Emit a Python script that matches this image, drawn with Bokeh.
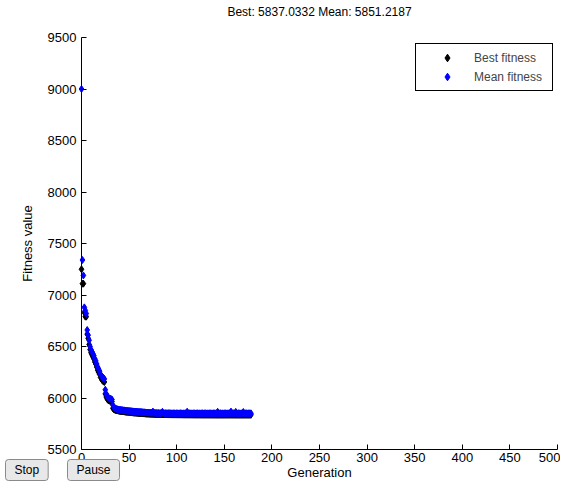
from bokeh.plotting import figure
from bokeh.models import (Label, Range1d, FixedTicker, Legend, LegendItem,
                          ColumnDataSource, LinearAxis)
from bokeh.embed import file_html
from bokeh.resources import INLINE

# ---- data ----
title_text = "Best: 5837.0332 Mean: 5851.2187"
x_ticks = [0, 50, 100, 150, 200, 250, 300, 350, 400, 450, 500]
y_ticks = [5500, 6000, 6500, 7000, 7500, 8000, 8500, 9000, 9500]

best_fitness = [
    7250, 7110, 7110, 6830, 6790, 6790, 6620, 6580, 6520, 6470,
    6440, 6420, 6400, 6380, 6350, 6330, 6300, 6270, 6250, 6230,
    6200, 6185, 6170, 6160, 6155, 6040, 6010, 5990, 5980, 5975,
    5970, 5968, 5965, 5900, 5890, 5886, 5882, 5880, 5878, 5876,
    5874, 5872, 5871, 5870, 5869, 5868, 5866, 5865, 5864, 5863,
    5862, 5861, 5860, 5859, 5858, 5857, 5856, 5856, 5855, 5854,
    5853, 5852, 5852, 5851, 5850, 5849, 5849, 5848, 5847, 5847,
    5846, 5846, 5845, 5845, 5844, 5844, 5843, 5843, 5842, 5842,
    5842, 5841, 5841, 5841, 5840, 5840, 5840, 5840, 5839.8, 5839.7,
    5839.6, 5839.5, 5839.4, 5839.3, 5839.2, 5839.1, 5839.0, 5839.0, 5838.9, 5838.9,
    5838.8, 5838.8, 5838.7, 5838.7, 5838.6, 5838.6, 5838.5, 5838.5, 5838.4, 5838.4,
    5838.3, 5838.3, 5838.2, 5838.2, 5838.1, 5838.1, 5838.0, 5838.0, 5837.9, 5837.9,
    5837.8, 5837.8, 5837.7, 5837.7, 5837.7, 5837.6, 5837.6, 5837.6, 5837.5, 5837.5,
    5837.5, 5837.4, 5837.4, 5837.4, 5837.4, 5837.3, 5837.3, 5837.3, 5837.3, 5837.3,
    5837.2, 5837.2, 5837.2, 5837.2, 5837.2, 5837.2, 5837.2, 5837.2, 5837.2, 5837.2,
    5837.2, 5837.2, 5837.1, 5837.1, 5837.1, 5837.1, 5837.1, 5837.1, 5837.1, 5837.1,
    5837.1, 5837.1, 5837.05, 5837.05, 5837.05, 5837.05, 5837.05, 5837.05, 5837.05, 5837.05,
    5837.04, 5837.04, 5837.04, 5837.04, 5837.04, 5837.04, 5837.04, 5837.04, 5837.0332,
]

mean_fitness = [
    9000, 7340, 7190, 6880, 6850, 6820, 6660, 6610, 6560, 6500,
    6470, 6450, 6430, 6410, 6380, 6360, 6330, 6300, 6280, 6260,
    6230, 6215, 6205, 6195, 6185, 6080, 6040, 6020, 6005, 5998,
    5994, 5990, 5985, 5930, 5910, 5900, 5896, 5893, 5890, 5888,
    5886, 5884, 5883, 5882, 5880, 5880, 5878, 5877, 5876, 5875,
    5874, 5873, 5872, 5871, 5870, 5869, 5868, 5868, 5867, 5866,
    5865, 5864, 5864, 5863, 5862, 5861, 5861, 5860, 5859, 5859,
    5858, 5858, 5857, 5857, 5856, 5868, 5855, 5855, 5854, 5854,
    5853, 5854, 5852, 5853, 5852, 5866, 5852, 5851, 5853, 5852,
    5851, 5852, 5853, 5851, 5852, 5850, 5851, 5852, 5851, 5850,
    5852, 5851, 5850, 5851, 5852, 5851, 5850, 5851, 5850, 5852,
    5851, 5867, 5850, 5851, 5852, 5850, 5851, 5850, 5852, 5851,
    5850, 5851, 5852, 5850, 5851, 5850, 5851, 5852, 5850, 5851,
    5852, 5850, 5851, 5850, 5851, 5852, 5850, 5851, 5850, 5852,
    5851, 5850, 5851, 5866, 5850, 5851, 5852, 5850, 5851, 5850,
    5851, 5852, 5850, 5851, 5850, 5852, 5851, 5868, 5850, 5851,
    5852, 5850, 5865, 5851, 5850, 5852, 5851, 5850, 5851, 5852,
    5864, 5850, 5851, 5852, 5850, 5851, 5852, 5850, 5851.2187,
]

button_labels = ["Stop", "Pause"]

generations = list(range(len(best_fitness)))

FONT = "Liberation Sans"
W, H = 560, 487
# axes box in canvas pixels
BOX_L, BOX_R, BOX_T, BOX_B = 81, 557, 37, 449
X0, X1 = x_ticks[0], x_ticks[-1]
Y0, Y1 = y_ticks[0], y_ticks[-1]
kx = (BOX_R - BOX_L) / (X1 - X0)
ky = (BOX_B - BOX_T) / (Y1 - Y0)

p = figure(width=W, height=H, output_backend="svg", toolbar_location=None,
           title=None, x_axis_type=None, y_axis_type=None,
           x_range=Range1d(X0 - BOX_L / kx, X1 + (W - BOX_R) / kx),
           y_range=Range1d(Y0 - (H - BOX_B) / ky, Y1 + BOX_T / ky),
           min_border=0, background_fill_color="white", border_fill_color="white")
p.outline_line_color = None
p.grid.visible = False

xaxis = LinearAxis(fixed_location=Y0, bounds=(X0, X1), axis_label="Generation")
yaxis = LinearAxis(fixed_location=X0, bounds=(Y0, Y1), axis_label="Fitness value")
p.add_layout(xaxis, "below")
p.add_layout(yaxis, "left")

for ax, ticks in ((xaxis, x_ticks), (yaxis, y_ticks)):
    ax.ticker = FixedTicker(ticks=ticks)
    ax.major_tick_in = 5
    ax.major_tick_out = 0
    ax.minor_tick_line_color = None
    ax.axis_line_color = "black"
    ax.major_tick_line_color = "black"
    ax.major_label_text_font = FONT
    ax.major_label_text_font_size = "13px"
    ax.major_label_text_color = "black"
    ax.axis_label_text_font = FONT
    ax.axis_label_text_font_size = "13px"
    ax.axis_label_text_font_style = "normal"
    ax.axis_label_text_color = "black"

xaxis.major_label_standoff = 3
xaxis.axis_label_standoff = 0
yaxis.major_label_standoff = 5
yaxis.axis_label_standoff = 10

src = ColumnDataSource(dict(gen=generations, best=best_fitness, mean=mean_fitness))
r_best = p.scatter("gen", "best", source=src, marker="diamond", size=7,
                   color="black")
r_mean = p.scatter("gen", "mean", source=src, marker="diamond", size=7,
                   color="#0000ff")

legend = Legend(items=[LegendItem(label="Best fitness", renderers=[r_best]),
                       LegendItem(label="Mean fitness", renderers=[r_mean])],
                location=(415, H - 91))
legend.margin = 0
legend.padding = 4
legend.spacing = 0
legend.glyph_width = 54
legend.glyph_height = 19
legend.label_height = 19
legend.label_width = 74
legend.label_standoff = 0
legend.label_text_font = FONT
legend.label_text_font_size = "12px"
legend.border_line_color = "black"
legend.border_line_alpha = 1
legend.border_line_width = 1
legend.background_fill_color = "white"
legend.background_fill_alpha = 1
p.add_layout(legend)

p.add_layout(Label(x=(BOX_L + BOX_R) / 2, y=H - 11, x_units="screen", y_units="screen",
                   text=title_text, text_align="center", text_baseline="middle",
                   text_font=FONT, text_font_size="12px", text_color="black"))

for txt, bx in zip(button_labels, (5, 67)):
    p.add_layout(Label(x=bx, y=H - 459, x_units="screen", y_units="screen", text=txt,
                       anchor="top_left", text_font=FONT, text_font_size="12px",
                       text_color="black", padding=(9, 9, 3, 4),
                       background_fill_color="#e8e8e8", border_line_color="#8a8a8a",
                       border_radius=3))

open("out.html", "w").write(file_html(p, INLINE))
